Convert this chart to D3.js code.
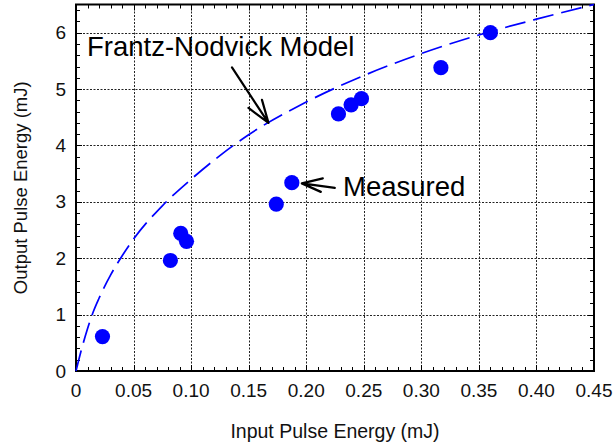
<!DOCTYPE html>
<html>
<head>
<meta charset="utf-8">
<script src="https://cdn.jsdelivr.net/npm/d3@7"></script>
<style>
  html, body { margin: 0; padding: 0; background: #fff; }
  svg { display: block; font-family: Arial, "Liberation Sans", sans-serif; }
</style>
</head>
<body>
<svg id="chart" width="616" height="445"></svg>
<script>
// Measured amplifier output vs. input pulse energy (mJ)
const inputEnergy  = [0.023, 0.082, 0.091, 0.096, 0.174, 0.1875, 0.228, 0.239, 0.248, 0.317, 0.360];
const outputEnergy = [0.61,  1.96,  2.44,  2.30,  2.96,  3.34,   4.56,  4.72,  4.83,  5.38,  6.00];

// Frantz-Nodvick model curve, sampled
const modelInput  = [0, 0.005, 0.01, 0.015, 0.02, 0.03, 0.04, 0.05, 0.075, 0.10, 0.125, 0.15, 0.20, 0.25, 0.30, 0.35, 0.40, 0.45];
const modelOutput = [0, 0.40,  0.75, 1.05,  1.29, 1.70, 2.04, 2.34, 2.93,  3.40, 3.82,  4.19, 4.77, 5.24, 5.63, 5.96, 6.24, 6.50];

// Axis ticks
const xTicks = [0, 0.05, 0.10, 0.15, 0.20, 0.25, 0.30, 0.35, 0.40, 0.45];
const xTickLabels = ["0", "0.05", "0.10", "0.15", "0.20", "0.25", "0.30", "0.35", "0.40", "0.45"];
const yTicks = [0, 1, 2, 3, 4, 5, 6];
const yTickLabels = ["0", "1", "2", "3", "4", "5", "6"];

// Annotation anchors (data units)
const modelLabel = "Frantz-Nodvick Model";
const modelArrowTip = [0.1672, 4.40];
const measuredLabel = "Measured";
const measuredArrowTip = [0.1875, 3.34];

const svg = d3.select("#chart");
const plot = { left: 76, right: 594, top: 4.5, bottom: 371 };

const x = d3.scaleLinear().domain([0, 0.45]).range([plot.left, plot.right]);
const y = d3.scaleLinear().domain([0, 6.5]).range([plot.bottom, plot.top]);

// Grid lines (dotted)
const grid = svg.append("g").attr("stroke", "#222").attr("stroke-width", 1).attr("stroke-dasharray", "2,1.5");
grid.selectAll("line.vx").data(xTicks.slice(1, -1)).join("line")
  .attr("x1", d => Math.round(x(d)) + 0.5).attr("x2", d => Math.round(x(d)) + 0.5)
  .attr("y1", plot.top).attr("y2", plot.bottom);
grid.selectAll("line.hy").data(yTicks.slice(1)).join("line")
  .attr("y1", d => Math.round(y(d)) + 0.5).attr("y2", d => Math.round(y(d)) + 0.5)
  .attr("x1", plot.left).attr("x2", plot.right);

// Inward ticks on all four sides, minor every 0.01 / 0.2
const xMinor = d3.range(0, 46).map(i => i / 100);
const yMinor = d3.range(0, 33).map(i => i / 5);
const ticks = svg.append("g").attr("stroke", "#000").attr("stroke-width", 1);
const isMajorX = v => Math.abs(v / 0.05 - Math.round(v / 0.05)) < 1e-6;
const isMajorY = v => Math.abs(v - Math.round(v)) < 1e-6;
xMinor.forEach(v => {
  const len = isMajorX(v) ? 6 : 4;
  const px = Math.round(x(v)) + 0.5;
  ticks.append("line").attr("x1", px).attr("x2", px).attr("y1", plot.bottom).attr("y2", plot.bottom - len);
  ticks.append("line").attr("x1", px).attr("x2", px).attr("y1", plot.top).attr("y2", plot.top + len);
});
yMinor.forEach(v => {
  const len = isMajorY(v) ? 6 : 4;
  const py = Math.round(y(v)) + 0.5;
  ticks.append("line").attr("y1", py).attr("y2", py).attr("x1", plot.left).attr("x2", plot.left + len);
  ticks.append("line").attr("y1", py).attr("y2", py).attr("x1", plot.right).attr("x2", plot.right - len);
});

// Frame
svg.append("rect")
  .attr("x", plot.left).attr("y", plot.top)
  .attr("width", plot.right - plot.left).attr("height", plot.bottom - plot.top)
  .attr("fill", "none").attr("stroke", "#000").attr("stroke-width", 2);

// Tick labels
svg.append("g").selectAll("text").data(xTicks).join("text")
  .attr("x", d => x(d)).attr("y", 396.5)
  .attr("text-anchor", "middle").attr("font-size", 19).attr("fill", "#111")
  .text((d, i) => xTickLabels[i]);
svg.append("g").selectAll("text").data(yTicks).join("text")
  .attr("x", 66).attr("y", d => y(d)).attr("dy", "0.35em")
  .attr("text-anchor", "end").attr("font-size", 19).attr("fill", "#111")
  .text((d, i) => yTickLabels[i]);

// Axis titles
svg.append("text")
  .attr("x", (plot.left + plot.right) / 2).attr("y", 437.5)
  .attr("text-anchor", "middle").attr("font-size", 19.5).attr("fill", "#111")
  .text("Input Pulse Energy (mJ)");
svg.append("text")
  .attr("transform", `translate(27,${(plot.top + plot.bottom) / 2}) rotate(-90)`)
  .attr("text-anchor", "middle").attr("font-size", 18.5).attr("fill", "#111")
  .text("Output Pulse Energy (mJ)");

// Model curve (blue, dashed)
const modelPts = modelInput.map((v, i) => [v, modelOutput[i]]);
svg.append("path")
  .datum(modelPts)
  .attr("fill", "none").attr("stroke", "#0000ff").attr("stroke-width", 1.7)
  .attr("stroke-dasharray", "21,8")
  .attr("d", d3.line().x(d => x(d[0])).y(d => y(d[1])).curve(d3.curveMonotoneX));

// Measured points
svg.append("g").selectAll("circle").data(inputEnergy).join("circle")
  .attr("cx", d => x(d)).attr("cy", (d, i) => y(outputEnergy[i]))
  .attr("r", 7.6).attr("fill", "#0000ff");

// Annotations
const ann = svg.append("g").attr("stroke", "#000").attr("stroke-width", 2.2).attr("fill", "none")
  .attr("stroke-linecap", "round").attr("stroke-linejoin", "round");

// Model label + arrow
svg.append("text").attr("x", 87).attr("y", 55.5).attr("font-size", 27.5).attr("fill", "#000").text(modelLabel);
{
  const tx = x(modelArrowTip[0]), ty = y(modelArrowTip[1]);
  ann.append("path").attr("d",
    `M${tx - 36.5},${ty - 55.5} L${tx},${ty} M${tx - 20},${ty - 15} L${tx},${ty} L${tx - 6.5},${ty - 23}`);
}

// Measured label + arrow
svg.append("text").attr("x", 343).attr("y", 196).attr("font-size", 27.5).attr("fill", "#000").text(measuredLabel);
{
  const tx = x(measuredArrowTip[0]) + 10, ty = y(measuredArrowTip[1]) + 0.7;
  ann.append("path").attr("d",
    `M${tx + 33},${ty + 4.5} L${tx},${ty} M${tx + 21},${ty - 5} L${tx},${ty} L${tx + 19},${ty + 8.5}`);
}
</script>
</body>
</html>
